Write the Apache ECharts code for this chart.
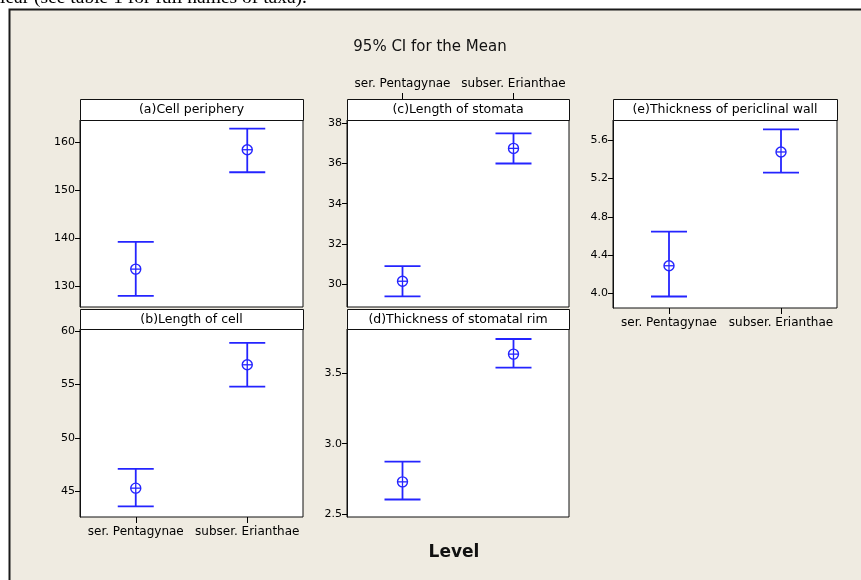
<!DOCTYPE html>
<html>
<head>
<meta charset="utf-8">
<script src="https://cdn.jsdelivr.net/npm/echarts@6/dist/echarts.min.js"></script>
<style>
html,body{margin:0;padding:0;background:#fff;}
#chart{width:861px;height:580px;}
</style>
</head>
<body>
<div id="chart"></div>
<script>
// ---- data ----
const categories = ['ser. Pentagynae', 'subser. Erianthae'];

const cellPeripheryMean  = [133.5, 158.4];
const cellPeripheryLower = [127.9, 153.7];
const cellPeripheryUpper = [139.2, 162.8];

const lengthOfCellMean  = [45.3, 56.85];
const lengthOfCellLower = [43.6, 54.8];
const lengthOfCellUpper = [47.1, 58.9];

const lengthOfStomataMean  = [30.15, 36.75];
const lengthOfStomataLower = [29.4, 36.0];
const lengthOfStomataUpper = [30.9, 37.5];

const stomatalRimMean  = [2.73, 3.635];
const stomatalRimLower = [2.605, 3.54];
const stomatalRimUpper = [2.873, 3.742];

const periclinalWallMean  = [4.29, 5.475];
const periclinalWallLower = [3.97, 5.26];
const periclinalWallUpper = [4.645, 5.71];

const ticksA = [130, 140, 150, 160];
const ticksB = [45, 50, 55, 60];
const ticksC = [30, 32, 34, 36, 38];
const ticksD = [2.5, 3.0, 3.5];
const ticksE = [4.0, 4.4, 4.8, 5.2, 5.6];

const panelTitles = ['(a)Cell periphery', '(b)Length of cell', '(c)Length of stomata',
  '(d)Thickness of stomatal rim', '(e)Thickness of periclinal wall'];
const chartTitle = '95% CI for the Mean';
const xAxisTitle = 'Level';
const captionText = 'lear (see table 1 for full names of taxa).';

// ---- layout ----
const panels = [
  {mean: cellPeripheryMean, lo: cellPeripheryLower, hi: cellPeripheryUpper, ticks: ticksA,
   min: 125.6, max: 164.6, dec: 0, left: 80, top: 120, width: 223, height: 187, head: 21, xlab: 'none'},
  {mean: lengthOfCellMean, lo: lengthOfCellLower, hi: lengthOfCellUpper, ticks: ticksB,
   min: 42.6, max: 60.2, dec: 0, left: 80, top: 329, width: 223, height: 188, head: 20, xlab: 'bottom'},
  {mean: lengthOfStomataMean, lo: lengthOfStomataLower, hi: lengthOfStomataUpper, ticks: ticksC,
   min: 28.87, max: 38.16, dec: 0, left: 347, top: 120, width: 222, height: 187, head: 21, xlab: 'top'},
  {mean: stomatalRimMean, lo: stomatalRimLower, hi: stomatalRimUpper, ticks: ticksD,
   min: 2.481, max: 3.813, dec: 1, left: 347, top: 329, width: 222, height: 188, head: 20, xlab: 'none'},
  {mean: periclinalWallMean, lo: periclinalWallLower, hi: periclinalWallUpper, ticks: ticksE,
   min: 3.85, max: 5.808, dec: 1, left: 613, top: 120, width: 224, height: 188, head: 21, xlab: 'bottom'}
];

const BLUE = '#2424ff';
const FONT = 'DejaVu Sans';

function renderItem(params, api) {
  const c = api.value(0);
  const m = api.coord([c, api.value(1)]);
  const lo = api.coord([c, api.value(2)]);
  const hi = api.coord([c, api.value(3)]);
  const cap = 18, r = 5;
  const ls = {stroke: BLUE, lineWidth: 1.8, fill: null};
  return {
    type: 'group',
    children: [
      {type: 'line', shape: {x1: m[0], y1: hi[1], x2: m[0], y2: lo[1]}, style: ls},
      {type: 'line', shape: {x1: m[0] - cap, y1: hi[1], x2: m[0] + cap, y2: hi[1]}, style: ls},
      {type: 'line', shape: {x1: m[0] - cap, y1: lo[1], x2: m[0] + cap, y2: lo[1]}, style: ls},
      {type: 'circle', shape: {cx: m[0], cy: m[1], r: r}, style: {stroke: BLUE, lineWidth: 1.4, fill: '#fff'}},
      {type: 'line', shape: {x1: m[0] - r, y1: m[1], x2: m[0] + r, y2: m[1]}, style: {stroke: BLUE, lineWidth: 1.3}},
      {type: 'line', shape: {x1: m[0], y1: m[1] - r, x2: m[0], y2: m[1] + r}, style: {stroke: BLUE, lineWidth: 1.3}}
    ]
  };
}

const grids = [], xAxes = [], yAxes = [], series = [], graphics = [];

graphics.push({type: 'rect', z: -100, shape: {x: 9.5, y: 9.5, width: 900, height: 600},
  style: {fill: '#efebe1', stroke: '#1a1a1a', lineWidth: 2}});
graphics.push({type: 'text', z: -90, x: 0, y: 8,
  style: {text: captionText, font: '19.5px "Liberation Serif"', fill: '#000', verticalAlign: 'bottom'}});
graphics.push({type: 'text', x: 430, y: 47,
  style: {text: chartTitle, font: '15px "DejaVu Sans"', fill: '#111', align: 'center', verticalAlign: 'middle'}});
graphics.push({type: 'text', x: 454, y: 553,
  style: {text: xAxisTitle, font: 'bold 17px "DejaVu Sans"', fill: '#111', align: 'center', verticalAlign: 'middle'}});

panels.forEach((p, i) => {
  grids.push({left: p.left, top: p.top, width: p.width, height: p.height, show: true,
    backgroundColor: '#fff', borderColor: '#111', borderWidth: 1, containLabel: false, outerBoundsMode: 'none'});
  const showX = p.xlab !== 'none';
  xAxes.push({
    type: 'category', gridIndex: i, data: categories, boundaryGap: true,
    position: p.xlab === 'top' ? 'top' : 'bottom',
    offset: p.xlab === 'top' ? p.head : 0,
    axisLine: {show: false},
    axisTick: {show: showX, alignWithLabel: true, length: 6, lineStyle: {color: '#000', width: 1}},
    axisLabel: {show: showX, interval: 0, fontSize: 12, fontFamily: FONT, color: '#000', margin: 9},
    splitLine: {show: false}
  });
  yAxes.push({
    type: 'value', gridIndex: i, min: p.min, max: p.max, scale: true,
    axisLine: {show: true, lineStyle: {color: '#111', width: 1}},
    axisTick: {show: true, customValues: p.ticks, length: 5, lineStyle: {color: '#000', width: 1}},
    axisLabel: {show: true, customValues: p.ticks, fontSize: 11, fontFamily: FONT, color: '#000', margin: 5,
      formatter: v => Number(v).toFixed(p.dec)},
    splitLine: {show: false}
  });
  series.push({
    type: 'custom', xAxisIndex: i, yAxisIndex: i, renderItem: renderItem,
    encode: {x: 0, y: [1, 2, 3]},
    data: categories.map((c, k) => [k, p.mean[k], p.lo[k], p.hi[k]]),
    z: 5
  });
  graphics.push({type: 'rect', z: 10,
    shape: {x: p.left + 0.5, y: p.top - p.head + 0.5, width: p.width, height: p.head},
    style: {fill: '#fff', stroke: '#111', lineWidth: 1}});
  graphics.push({type: 'text', z: 11, x: p.left + p.width / 2, y: p.top - p.head / 2 + 0.5,
    style: {text: panelTitles[i], font: '12.5px "DejaVu Sans"', fill: '#000', align: 'center', verticalAlign: 'middle'}});
});

const chart = echarts.init(document.getElementById('chart'), null, {renderer: 'canvas'});
chart.setOption({
  backgroundColor: '#fff',
  animation: false,
  grid: grids,
  xAxis: xAxes,
  yAxis: yAxes,
  series: series,
  graphic: graphics
});
</script>
</body>
</html>
